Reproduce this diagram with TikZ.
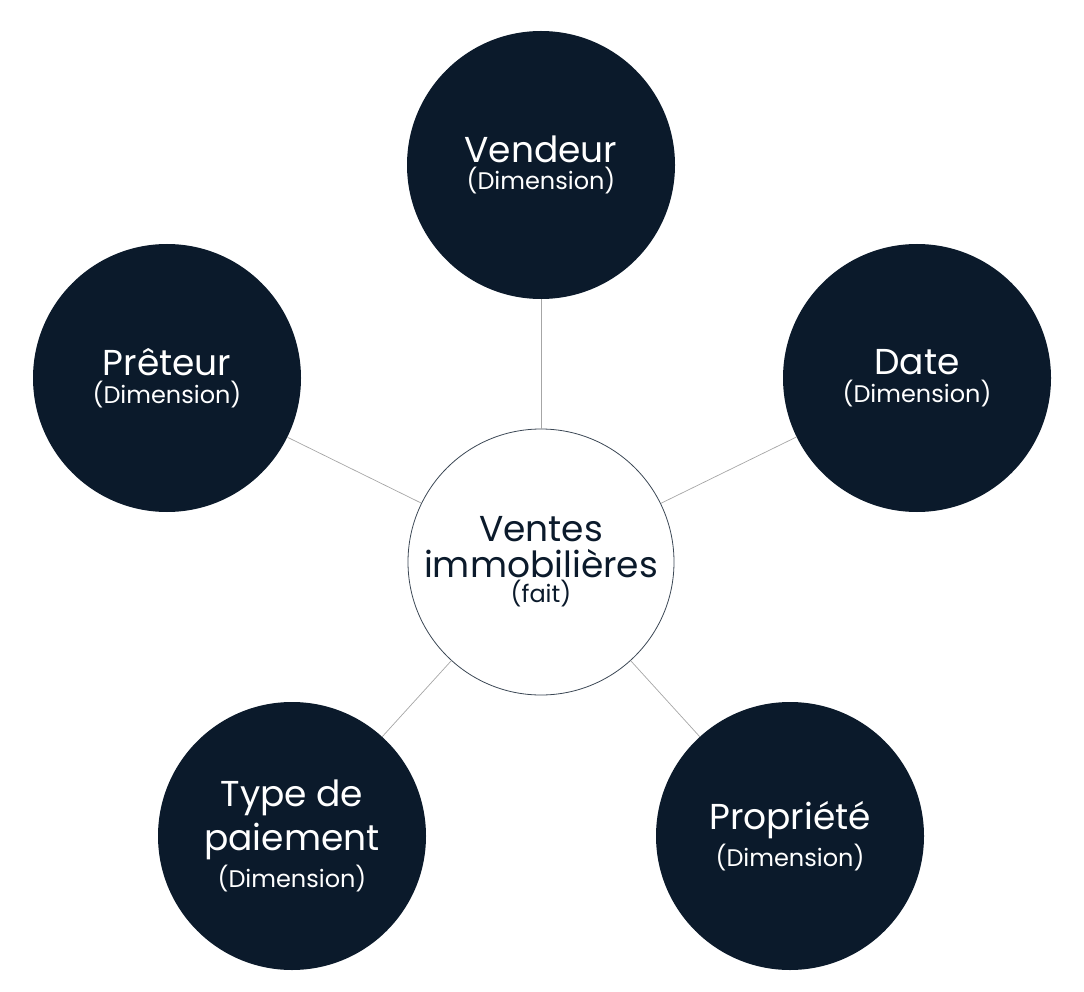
\documentclass[tikz,border=0pt]{standalone}
\usepackage{fontspec}
\setmainfont{Poppins}
\definecolor{navy}{HTML}{0B1A2B}
\newcommand{\bigf}{\fontsize{36}{40}\selectfont}
\newcommand{\smf}{\fontsize{24}{26}\selectfont}
\begin{document}
\begin{tikzpicture}[x=1pt,y=-1pt,
  dim/.style={circle,fill=navy,minimum size=268pt,inner sep=0pt,text=white,align=center},
  fact/.style={circle,draw=navy!80,line width=0.8pt,fill=white,minimum size=266pt,inner sep=0pt,text=navy,align=center},
  link/.style={draw=gray!70,line width=0.7pt}]
\useasboundingbox (0,0) rectangle (1084,992);
\node[fact] (c) at (541,562) {\bigf Ventes\\[6pt]\bigf immobilières\\[2pt]\smf (fait)};
\node[dim] (v) at (541,165) {\bigf Vendeur\\[4pt]\smf (Dimension)};
\node[dim] (p) at (167,378) {\bigf Prêteur\\[4pt]\smf (Dimension)};
\node[dim] (d) at (917,378) {\bigf Date\\[4pt]\smf (Dimension)};
\node[dim] (t) at (292,836) {\bigf Type de\\[6pt]\bigf paiement\\[4pt]\smf (Dimension)};
\node[dim] (r) at (790,836) {\bigf Propriété\\[4pt]\smf (Dimension)};
\foreach \n in {v,p,d,t,r} \draw[link] (c) -- (\n);
\end{tikzpicture}
\end{document}
